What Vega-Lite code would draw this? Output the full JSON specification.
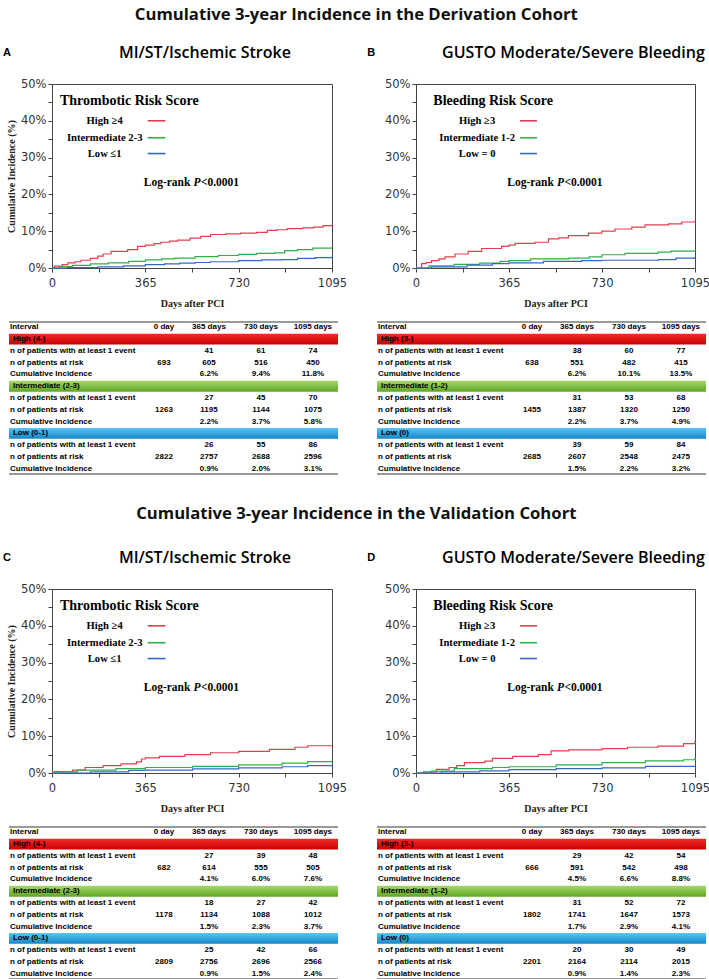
{
"$schema": "https://vega.github.io/schema/vega-lite/v6.json",
"background": "white",
"padding": {"left": 2, "top": 6, "right": 0, "bottom": 0},
"config": {
 "view": {"stroke": "#444", "strokeWidth": 1},
 "axis": {"grid": false, "labelFont": "DejaVu Sans", "labelFontSize": 11.5, "labelColor": "#333", "domainColor": "#444", "tickColor": "#444", "tickSize": 4, "titleFont": "Liberation Serif", "titleFontSize": 10, "titleFontWeight": "bold", "titleColor": "#222", "labelFlush": false, "labelOverlap": false},
 "title": {"font": "Open Sans", "color": "#111"},
 "style": {
  "tbl": {"font": "Liberation Sans", "fontSize": 8, "fontWeight": "bold", "fill": "#222", "baseline": "middle"},
  "lgd": {"font": "Liberation Serif", "fontSize": 10.6, "fontWeight": "bold", "fill": "#222", "baseline": "middle"},
  "lgt": {"font": "Liberation Serif", "fontSize": 14, "fontWeight": "bold", "fill": "#222", "baseline": "middle"},
  "lr": {"font": "Liberation Serif", "fontSize": 11.5, "fontWeight": "bold", "fill": "#222", "baseline": "middle"},
  "let": {"font": "Liberation Sans", "fontSize": 11, "fontWeight": "bold", "fill": "#111", "baseline": "middle", "align": "center"},
  "pt": {"font": "Open Sans", "fontSize": 16, "fontWeight": 600, "fill": "#111", "baseline": "middle", "align": "center"}
 }
},
"datasets": {
 "curves": [
  {"p":"A","g":"High","d":0,"v":0},{"p":"A","g":"High","d":10,"v":0.5},{"p":"A","g":"High","d":40,"v":0.9},{"p":"A","g":"High","d":62,"v":1.4},{"p":"A","g":"High","d":90,"v":1.7},{"p":"A","g":"High","d":114,"v":2.1},{"p":"A","g":"High","d":150,"v":2.6},{"p":"A","g":"High","d":179,"v":3.2},{"p":"A","g":"High","d":200,"v":3.8},{"p":"A","g":"High","d":231,"v":4.5},{"p":"A","g":"High","d":296,"v":5.0},{"p":"A","g":"High","d":335,"v":5.9},{"p":"A","g":"High","d":365,"v":6.2},{"p":"A","g":"High","d":400,"v":6.6},{"p":"A","g":"High","d":426,"v":7.0},{"p":"A","g":"High","d":460,"v":7.3},{"p":"A","g":"High","d":491,"v":7.6},{"p":"A","g":"High","d":540,"v":8.1},{"p":"A","g":"High","d":582,"v":8.6},{"p":"A","g":"High","d":620,"v":9.1},{"p":"A","g":"High","d":680,"v":9.3},{"p":"A","g":"High","d":738,"v":9.5},{"p":"A","g":"High","d":800,"v":9.7},{"p":"A","g":"High","d":842,"v":10.2},{"p":"A","g":"High","d":880,"v":10.4},{"p":"A","g":"High","d":920,"v":10.7},{"p":"A","g":"High","d":980,"v":10.9},{"p":"A","g":"High","d":1024,"v":11.1},{"p":"A","g":"High","d":1060,"v":11.5},{"p":"A","g":"High","d":1095,"v":11.8},
  {"p":"A","g":"Intermediate","d":0,"v":0},{"p":"A","g":"Intermediate","d":30,"v":0.4},{"p":"A","g":"Intermediate","d":80,"v":0.7},{"p":"A","g":"Intermediate","d":150,"v":1.1},{"p":"A","g":"Intermediate","d":220,"v":1.4},{"p":"A","g":"Intermediate","d":300,"v":1.8},{"p":"A","g":"Intermediate","d":365,"v":2.2},{"p":"A","g":"Intermediate","d":430,"v":2.5},{"p":"A","g":"Intermediate","d":480,"v":2.7},{"p":"A","g":"Intermediate","d":560,"v":3.1},{"p":"A","g":"Intermediate","d":650,"v":3.4},{"p":"A","g":"Intermediate","d":730,"v":3.7},{"p":"A","g":"Intermediate","d":800,"v":4.0},{"p":"A","g":"Intermediate","d":870,"v":4.1},{"p":"A","g":"Intermediate","d":910,"v":4.7},{"p":"A","g":"Intermediate","d":960,"v":5.0},{"p":"A","g":"Intermediate","d":1020,"v":5.4},{"p":"A","g":"Intermediate","d":1095,"v":5.8},
  {"p":"A","g":"Low","d":0,"v":0},{"p":"A","g":"Low","d":60,"v":0.1},{"p":"A","g":"Low","d":180,"v":0.3},{"p":"A","g":"Low","d":280,"v":0.6},{"p":"A","g":"Low","d":365,"v":0.9},{"p":"A","g":"Low","d":440,"v":1.1},{"p":"A","g":"Low","d":500,"v":1.3},{"p":"A","g":"Low","d":560,"v":1.5},{"p":"A","g":"Low","d":620,"v":1.7},{"p":"A","g":"Low","d":730,"v":2.0},{"p":"A","g":"Low","d":820,"v":2.2},{"p":"A","g":"Low","d":900,"v":2.3},{"p":"A","g":"Low","d":960,"v":2.6},{"p":"A","g":"Low","d":1030,"v":2.8},{"p":"A","g":"Low","d":1095,"v":3.1},
  {"p":"B","g":"High","d":0,"v":0},{"p":"B","g":"High","d":22,"v":1.2},{"p":"B","g":"High","d":40,"v":1.5},{"p":"B","g":"High","d":61,"v":2.0},{"p":"B","g":"High","d":90,"v":2.5},{"p":"B","g":"High","d":114,"v":3.0},{"p":"B","g":"High","d":153,"v":3.8},{"p":"B","g":"High","d":205,"v":4.5},{"p":"B","g":"High","d":258,"v":5.3},{"p":"B","g":"High","d":336,"v":5.9},{"p":"B","g":"High","d":365,"v":6.2},{"p":"B","g":"High","d":389,"v":6.7},{"p":"B","g":"High","d":467,"v":7.0},{"p":"B","g":"High","d":520,"v":7.9},{"p":"B","g":"High","d":560,"v":8.2},{"p":"B","g":"High","d":598,"v":8.8},{"p":"B","g":"High","d":677,"v":9.5},{"p":"B","g":"High","d":729,"v":10.0},{"p":"B","g":"High","d":781,"v":10.6},{"p":"B","g":"High","d":847,"v":11.1},{"p":"B","g":"High","d":899,"v":11.7},{"p":"B","g":"High","d":991,"v":12.0},{"p":"B","g":"High","d":1043,"v":12.5},{"p":"B","g":"High","d":1095,"v":12.9},
  {"p":"B","g":"Intermediate","d":0,"v":0},{"p":"B","g":"Intermediate","d":50,"v":0.6},{"p":"B","g":"Intermediate","d":150,"v":1.0},{"p":"B","g":"Intermediate","d":250,"v":1.3},{"p":"B","g":"Intermediate","d":330,"v":1.8},{"p":"B","g":"Intermediate","d":365,"v":2.0},{"p":"B","g":"Intermediate","d":450,"v":2.5},{"p":"B","g":"Intermediate","d":600,"v":2.7},{"p":"B","g":"Intermediate","d":680,"v":3.0},{"p":"B","g":"Intermediate","d":730,"v":3.6},{"p":"B","g":"Intermediate","d":820,"v":4.0},{"p":"B","g":"Intermediate","d":950,"v":4.3},{"p":"B","g":"Intermediate","d":1000,"v":4.6},{"p":"B","g":"Intermediate","d":1095,"v":4.8},
  {"p":"B","g":"Low","d":0,"v":0},{"p":"B","g":"Low","d":60,"v":0.3},{"p":"B","g":"Low","d":200,"v":0.8},{"p":"B","g":"Low","d":300,"v":1.2},{"p":"B","g":"Low","d":365,"v":1.4},{"p":"B","g":"Low","d":500,"v":1.8},{"p":"B","g":"Low","d":650,"v":2.0},{"p":"B","g":"Low","d":730,"v":2.1},{"p":"B","g":"Low","d":950,"v":2.3},{"p":"B","g":"Low","d":1020,"v":2.7},{"p":"B","g":"Low","d":1095,"v":3.0},
  {"p":"C","g":"High","d":0,"v":0},{"p":"C","g":"High","d":10,"v":0.4},{"p":"C","g":"High","d":80,"v":0.8},{"p":"C","g":"High","d":130,"v":1.5},{"p":"C","g":"High","d":200,"v":2.0},{"p":"C","g":"High","d":270,"v":2.5},{"p":"C","g":"High","d":330,"v":3.0},{"p":"C","g":"High","d":350,"v":3.8},{"p":"C","g":"High","d":365,"v":4.1},{"p":"C","g":"High","d":420,"v":4.5},{"p":"C","g":"High","d":520,"v":5.0},{"p":"C","g":"High","d":620,"v":5.5},{"p":"C","g":"High","d":730,"v":5.9},{"p":"C","g":"High","d":850,"v":6.4},{"p":"C","g":"High","d":950,"v":7.0},{"p":"C","g":"High","d":1000,"v":7.4},{"p":"C","g":"High","d":1095,"v":7.5},
  {"p":"C","g":"Intermediate","d":0,"v":0},{"p":"C","g":"Intermediate","d":30,"v":0.3},{"p":"C","g":"Intermediate","d":100,"v":0.8},{"p":"C","g":"Intermediate","d":250,"v":1.2},{"p":"C","g":"Intermediate","d":365,"v":1.5},{"p":"C","g":"Intermediate","d":550,"v":1.8},{"p":"C","g":"Intermediate","d":730,"v":2.2},{"p":"C","g":"Intermediate","d":900,"v":2.7},{"p":"C","g":"Intermediate","d":1000,"v":3.1},{"p":"C","g":"Intermediate","d":1095,"v":3.4},
  {"p":"C","g":"Low","d":0,"v":0},{"p":"C","g":"Low","d":150,"v":0.3},{"p":"C","g":"Low","d":300,"v":0.7},{"p":"C","g":"Low","d":365,"v":0.8},{"p":"C","g":"Low","d":550,"v":1.1},{"p":"C","g":"Low","d":730,"v":1.4},{"p":"C","g":"Low","d":900,"v":1.7},{"p":"C","g":"Low","d":1000,"v":2.0},{"p":"C","g":"Low","d":1095,"v":2.2},
  {"p":"D","g":"High","d":0,"v":0},{"p":"D","g":"High","d":30,"v":0.3},{"p":"D","g":"High","d":80,"v":1.0},{"p":"D","g":"High","d":130,"v":1.5},{"p":"D","g":"High","d":160,"v":2.0},{"p":"D","g":"High","d":190,"v":2.8},{"p":"D","g":"High","d":270,"v":3.2},{"p":"D","g":"High","d":300,"v":4.0},{"p":"D","g":"High","d":380,"v":4.5},{"p":"D","g":"High","d":480,"v":5.0},{"p":"D","g":"High","d":530,"v":6.0},{"p":"D","g":"High","d":600,"v":6.3},{"p":"D","g":"High","d":730,"v":6.6},{"p":"D","g":"High","d":830,"v":7.0},{"p":"D","g":"High","d":950,"v":7.3},{"p":"D","g":"High","d":1050,"v":8.0},{"p":"D","g":"High","d":1095,"v":8.6},
  {"p":"D","g":"Intermediate","d":0,"v":0},{"p":"D","g":"Intermediate","d":60,"v":0.5},{"p":"D","g":"Intermediate","d":150,"v":1.2},{"p":"D","g":"Intermediate","d":300,"v":1.5},{"p":"D","g":"Intermediate","d":365,"v":1.7},{"p":"D","g":"Intermediate","d":550,"v":2.2},{"p":"D","g":"Intermediate","d":730,"v":2.8},{"p":"D","g":"Intermediate","d":900,"v":3.3},{"p":"D","g":"Intermediate","d":1050,"v":3.6},{"p":"D","g":"Intermediate","d":1095,"v":4.1},
  {"p":"D","g":"Low","d":0,"v":0},{"p":"D","g":"Low","d":100,"v":0.3},{"p":"D","g":"Low","d":250,"v":0.6},{"p":"D","g":"Low","d":365,"v":0.9},{"p":"D","g":"Low","d":550,"v":1.2},{"p":"D","g":"Low","d":730,"v":1.4},{"p":"D","g":"Low","d":900,"v":1.8},{"p":"D","g":"Low","d":1095,"v":2.0}
 ],
 "tbl": [
  {"t":"A","row":0,"kind":"header","label":"Interval","c0":"0 day","c365":"365 days","c730":"730 days","c1095":"1095 days"},
  {"t":"A","row":1,"kind":"High","label":"High (4-)"},
  {"t":"A","row":2,"kind":"data","label":"n of patients with at least 1 event","c365":"41","c730":"61","c1095":"74"},
  {"t":"A","row":3,"kind":"data","label":"n of patients at risk","c0":"693","c365":"605","c730":"516","c1095":"450"},
  {"t":"A","row":4,"kind":"data","label":"Cumulative Incidence","c365":"6.2%","c730":"9.4%","c1095":"11.8%"},
  {"t":"A","row":5,"kind":"Intermediate","label":"Intermediate (2-3)"},
  {"t":"A","row":6,"kind":"data","label":"n of patients with at least 1 event","c365":"27","c730":"45","c1095":"70"},
  {"t":"A","row":7,"kind":"data","label":"n of patients at risk","c0":"1263","c365":"1195","c730":"1144","c1095":"1075"},
  {"t":"A","row":8,"kind":"data","label":"Cumulative Incidence","c365":"2.2%","c730":"3.7%","c1095":"5.8%"},
  {"t":"A","row":9,"kind":"Low","label":"Low (0-1)"},
  {"t":"A","row":10,"kind":"data","label":"n of patients with at least 1 event","c365":"26","c730":"55","c1095":"86"},
  {"t":"A","row":11,"kind":"data","label":"n of patients at risk","c0":"2822","c365":"2757","c730":"2688","c1095":"2596"},
  {"t":"A","row":12,"kind":"data","label":"Cumulative Incidence","c365":"0.9%","c730":"2.0%","c1095":"3.1%"},
  {"t":"B","row":0,"kind":"header","label":"Interval","c0":"0 day","c365":"365 days","c730":"730 days","c1095":"1095 days"},
  {"t":"B","row":1,"kind":"High","label":"High (3-)"},
  {"t":"B","row":2,"kind":"data","label":"n of patients with at least 1 event","c365":"38","c730":"60","c1095":"77"},
  {"t":"B","row":3,"kind":"data","label":"n of patients at risk","c0":"638","c365":"551","c730":"482","c1095":"415"},
  {"t":"B","row":4,"kind":"data","label":"Cumulative Incidence","c365":"6.2%","c730":"10.1%","c1095":"13.5%"},
  {"t":"B","row":5,"kind":"Intermediate","label":"Intermediate (1-2)"},
  {"t":"B","row":6,"kind":"data","label":"n of patients with at least 1 event","c365":"31","c730":"53","c1095":"68"},
  {"t":"B","row":7,"kind":"data","label":"n of patients at risk","c0":"1455","c365":"1387","c730":"1320","c1095":"1250"},
  {"t":"B","row":8,"kind":"data","label":"Cumulative Incidence","c365":"2.2%","c730":"3.7%","c1095":"4.9%"},
  {"t":"B","row":9,"kind":"Low","label":"Low (0)"},
  {"t":"B","row":10,"kind":"data","label":"n of patients with at least 1 event","c365":"39","c730":"59","c1095":"84"},
  {"t":"B","row":11,"kind":"data","label":"n of patients at risk","c0":"2685","c365":"2607","c730":"2548","c1095":"2475"},
  {"t":"B","row":12,"kind":"data","label":"Cumulative Incidence","c365":"1.5%","c730":"2.2%","c1095":"3.2%"},
  {"t":"C","row":0,"kind":"header","label":"Interval","c0":"0 day","c365":"365 days","c730":"730 days","c1095":"1095 days"},
  {"t":"C","row":1,"kind":"High","label":"High (4-)"},
  {"t":"C","row":2,"kind":"data","label":"n of patients with at least 1 event","c365":"27","c730":"39","c1095":"48"},
  {"t":"C","row":3,"kind":"data","label":"n of patients at risk","c0":"682","c365":"614","c730":"555","c1095":"505"},
  {"t":"C","row":4,"kind":"data","label":"Cumulative Incidence","c365":"4.1%","c730":"6.0%","c1095":"7.6%"},
  {"t":"C","row":5,"kind":"Intermediate","label":"Intermediate (2-3)"},
  {"t":"C","row":6,"kind":"data","label":"n of patients with at least 1 event","c365":"18","c730":"27","c1095":"42"},
  {"t":"C","row":7,"kind":"data","label":"n of patients at risk","c0":"1178","c365":"1134","c730":"1088","c1095":"1012"},
  {"t":"C","row":8,"kind":"data","label":"Cumulative Incidence","c365":"1.5%","c730":"2.3%","c1095":"3.7%"},
  {"t":"C","row":9,"kind":"Low","label":"Low (0-1)"},
  {"t":"C","row":10,"kind":"data","label":"n of patients with at least 1 event","c365":"25","c730":"42","c1095":"66"},
  {"t":"C","row":11,"kind":"data","label":"n of patients at risk","c0":"2809","c365":"2756","c730":"2696","c1095":"2566"},
  {"t":"C","row":12,"kind":"data","label":"Cumulative Incidence","c365":"0.9%","c730":"1.5%","c1095":"2.4%"},
  {"t":"D","row":0,"kind":"header","label":"Interval","c0":"0 day","c365":"365 days","c730":"730 days","c1095":"1095 days"},
  {"t":"D","row":1,"kind":"High","label":"High (3-)"},
  {"t":"D","row":2,"kind":"data","label":"n of patients with at least 1 event","c365":"29","c730":"42","c1095":"54"},
  {"t":"D","row":3,"kind":"data","label":"n of patients at risk","c0":"666","c365":"591","c730":"542","c1095":"498"},
  {"t":"D","row":4,"kind":"data","label":"Cumulative Incidence","c365":"4.5%","c730":"6.6%","c1095":"8.8%"},
  {"t":"D","row":5,"kind":"Intermediate","label":"Intermediate (1-2)"},
  {"t":"D","row":6,"kind":"data","label":"n of patients with at least 1 event","c365":"31","c730":"52","c1095":"72"},
  {"t":"D","row":7,"kind":"data","label":"n of patients at risk","c0":"1802","c365":"1741","c730":"1647","c1095":"1573"},
  {"t":"D","row":8,"kind":"data","label":"Cumulative Incidence","c365":"1.7%","c730":"2.9%","c1095":"4.1%"},
  {"t":"D","row":9,"kind":"Low","label":"Low (0)"},
  {"t":"D","row":10,"kind":"data","label":"n of patients with at least 1 event","c365":"20","c730":"30","c1095":"49"},
  {"t":"D","row":11,"kind":"data","label":"n of patients at risk","c0":"2201","c365":"2164","c730":"2114","c1095":"2015"},
  {"t":"D","row":12,"kind":"data","label":"Cumulative Incidence","c365":"0.9%","c730":"1.4%","c1095":"2.3%"}
 ]
},
"spacing": 30,
"vconcat": [
 {
  "title": {"text": "Cumulative 3-year Incidence in the Derivation Cohort", "fontSize": 16.7, "fontWeight": "bold", "anchor": "middle", "offset": 21},
  "spacing": 12,
  "vconcat": [
   {"spacing": 18, "hconcat": [
    {"width": 280, "height": 184,
     "resolve": {"axis": {"y": "independent"}},
     "layer": [
      {"data": {"name": "curves"}, "transform": [{"filter": "datum.p==='A'"}],
       "mark": {"type": "line", "interpolate": "step-after", "strokeWidth": 1.2},
       "encoding": {
        "x": {"field": "d", "type": "quantitative", "scale": {"domain": [0, 1095], "nice": false, "zero": false}, "axis": {"values": [0, 182.5, 365, 547.5, 730, 912.5, 1095], "labelExpr": "datum.value % 365 === 0 ? '' + datum.value : ''", "labelOverlap": false, "title": "Days after PCI", "labelPadding": 5, "titlePadding": 10}},
        "y": {"field": "v", "type": "quantitative", "scale": {"domain": [0, 50], "nice": false}, "axis": {"values": [0, 5, 10, 15, 20, 25, 30, 35, 40, 45, 50], "labelExpr": "datum.value % 10 === 0 ? datum.value + '%' : ''", "labelOverlap": false, "title": "Cumulative Incidence (%)", "labelPadding": 2, "titlePadding": 4}},
        "color": {"field": "g", "type": "nominal", "scale": {"domain": ["High", "Intermediate", "Low"], "range": ["#e0404d", "#30ad4c", "#3268c8"]}, "legend": null}}},
      {"data": {"values": [{}]}, "mark": {"type": "text", "style": "let", "text": "A"}, "encoding": {"x": {"datum": -176}, "y": {"datum": 58.4, "axis": null}}},
      {"data": {"values": [{}]}, "mark": {"type": "text", "style": "pt", "text": "MI/ST/Ischemic Stroke"}, "encoding": {"x": {"datum": 598}, "y": {"datum": 58.4, "axis": null}}},
      {"data": {"values": [{}]}, "mark": {"type": "text", "style": "lgt", "align": "left", "text": "Thrombotic Risk Score"}, "encoding": {"x": {"datum": 31}, "y": {"datum": 45.4, "axis": null}}},
      {"data": {"values": [{}]}, "mark": {"type": "text", "style": "lgd", "align": "center", "text": "High ≥4"}, "encoding": {"x": {"datum": 206}, "y": {"datum": 40, "axis": null}}},
      {"data": {"values": [{}]}, "mark": {"type": "text", "style": "lgd", "align": "center", "text": "Intermediate 2-3"}, "encoding": {"x": {"datum": 206}, "y": {"datum": 35.4, "axis": null}}},
      {"data": {"values": [{}]}, "mark": {"type": "text", "style": "lgd", "align": "center", "text": "Low ≤1"}, "encoding": {"x": {"datum": 206}, "y": {"datum": 31.1, "axis": null}}},
      {"data": {"values": [{}]}, "mark": {"type": "rule", "color": "#e0404d", "strokeWidth": 1.6}, "encoding": {"x": {"datum": 374}, "x2": {"datum": 444}, "y": {"datum": 40, "axis": null}}},
      {"data": {"values": [{}]}, "mark": {"type": "rule", "color": "#30ad4c", "strokeWidth": 1.6}, "encoding": {"x": {"datum": 374}, "x2": {"datum": 444}, "y": {"datum": 35.4, "axis": null}}},
      {"data": {"values": [{}]}, "mark": {"type": "rule", "color": "#3268c8", "strokeWidth": 1.6}, "encoding": {"x": {"datum": 374}, "x2": {"datum": 444}, "y": {"datum": 31.1, "axis": null}}},
      {"data": {"values": [{}]}, "mark": {"type": "text", "style": "lr", "align": "right", "dx": -3, "text": "Log-rank"}, "encoding": {"x": {"datum": 553}, "y": {"datum": 23, "axis": null}}},
      {"data": {"values": [{}]}, "mark": {"type": "text", "style": "lr", "align": "left", "fontStyle": "italic", "text": "P"}, "encoding": {"x": {"datum": 553}, "y": {"datum": 23, "axis": null}}},
      {"data": {"values": [{}]}, "mark": {"type": "text", "style": "lr", "align": "left", "dx": 7.5, "text": "<0.0001"}, "encoding": {"x": {"datum": 553}, "y": {"datum": 23, "axis": null}}}
     ]},
    {"width": 279, "height": 184,
     "resolve": {"axis": {"y": "independent"}},
     "layer": [
      {"data": {"name": "curves"}, "transform": [{"filter": "datum.p==='B'"}],
       "mark": {"type": "line", "interpolate": "step-after", "strokeWidth": 1.2},
       "encoding": {
        "x": {"field": "d", "type": "quantitative", "scale": {"domain": [0, 1095], "nice": false, "zero": false}, "axis": {"values": [0, 182.5, 365, 547.5, 730, 912.5, 1095], "labelExpr": "datum.value % 365 === 0 ? '' + datum.value : ''", "labelOverlap": false, "title": "Days after PCI", "labelPadding": 5, "titlePadding": 10}},
        "y": {"field": "v", "type": "quantitative", "scale": {"domain": [0, 50], "nice": false}, "axis": {"values": [0, 5, 10, 15, 20, 25, 30, 35, 40, 45, 50], "labelExpr": "datum.value % 10 === 0 ? datum.value + '%' : ''", "labelOverlap": false, "title": null, "labelPadding": 2}},
        "color": {"field": "g", "type": "nominal", "scale": {"domain": ["High", "Intermediate", "Low"], "range": ["#e0404d", "#30ad4c", "#3268c8"]}, "legend": null}}},
      {"data": {"values": [{}]}, "mark": {"type": "text", "style": "let", "text": "B"}, "encoding": {"x": {"datum": -176}, "y": {"datum": 58.4, "axis": null}}},
      {"data": {"values": [{}]}, "mark": {"type": "text", "style": "pt", "text": "GUSTO Moderate/Severe Bleeding"}, "encoding": {"x": {"datum": 618}, "y": {"datum": 58.4, "axis": null}}},
      {"data": {"values": [{}]}, "mark": {"type": "text", "style": "lgt", "align": "left", "text": "Bleeding Risk Score"}, "encoding": {"x": {"datum": 68}, "y": {"datum": 45.4, "axis": null}}},
      {"data": {"values": [{}]}, "mark": {"type": "text", "style": "lgd", "align": "center", "text": "High ≥3"}, "encoding": {"x": {"datum": 240}, "y": {"datum": 40, "axis": null}}},
      {"data": {"values": [{}]}, "mark": {"type": "text", "style": "lgd", "align": "center", "text": "Intermediate 1-2"}, "encoding": {"x": {"datum": 240}, "y": {"datum": 35.4, "axis": null}}},
      {"data": {"values": [{}]}, "mark": {"type": "text", "style": "lgd", "align": "center", "text": "Low = 0"}, "encoding": {"x": {"datum": 240}, "y": {"datum": 31.1, "axis": null}}},
      {"data": {"values": [{}]}, "mark": {"type": "rule", "color": "#e0404d", "strokeWidth": 1.6}, "encoding": {"x": {"datum": 408}, "x2": {"datum": 475}, "y": {"datum": 40, "axis": null}}},
      {"data": {"values": [{}]}, "mark": {"type": "rule", "color": "#30ad4c", "strokeWidth": 1.6}, "encoding": {"x": {"datum": 408}, "x2": {"datum": 475}, "y": {"datum": 35.4, "axis": null}}},
      {"data": {"values": [{}]}, "mark": {"type": "rule", "color": "#3268c8", "strokeWidth": 1.6}, "encoding": {"x": {"datum": 408}, "x2": {"datum": 475}, "y": {"datum": 31.1, "axis": null}}},
      {"data": {"values": [{}]}, "mark": {"type": "text", "style": "lr", "align": "right", "dx": -3, "text": "Log-rank"}, "encoding": {"x": {"datum": 553}, "y": {"datum": 23, "axis": null}}},
      {"data": {"values": [{}]}, "mark": {"type": "text", "style": "lr", "align": "left", "fontStyle": "italic", "text": "P"}, "encoding": {"x": {"datum": 553}, "y": {"datum": 23, "axis": null}}},
      {"data": {"values": [{}]}, "mark": {"type": "text", "style": "lr", "align": "left", "dx": 7.5, "text": "<0.0001"}, "encoding": {"x": {"datum": 553}, "y": {"datum": 23, "axis": null}}}
     ]}
   ]},
   {"spacing": 36, "hconcat": [
    {"width": 286, "height": 152, "view": {"stroke": null}, "data": {"name": "tbl"}, "transform": [{"filter": "datum.t==='A'"}],
     "encoding": {"y": {"field": "row", "type": "ordinal", "scale": {"domain": [0,1,2,3,4,5,6,7,8,9,10,11,12], "paddingInner": 0.08, "paddingOuter": 0}, "axis": null}},
     "layer": [
      {"transform": [{"filter": "datum.kind==='High'"}], "mark": {"type": "bar", "color": {"gradient": "linear", "x1": 0, "y1": 0, "x2": 0, "y2": 1, "stops": [{"offset": 0, "color": "#f52a2a"}, {"offset": 1, "color": "#c80000"}]}}, "encoding": {"x": {"datum": -1039, "scale": {"domain": [-737, 1271], "nice": false, "zero": false}, "axis": null}, "x2": {"datum": 1271}}},
      {"transform": [{"filter": "datum.kind==='Intermediate'"}], "mark": {"type": "bar", "color": {"gradient": "linear", "x1": 0, "y1": 0, "x2": 0, "y2": 1, "stops": [{"offset": 0, "color": "#a6d86a"}, {"offset": 1, "color": "#5fa624"}]}}, "encoding": {"x": {"datum": -1039}, "x2": {"datum": 1271}}},
      {"transform": [{"filter": "datum.kind==='Low'"}], "mark": {"type": "bar", "color": {"gradient": "linear", "x1": 0, "y1": 0, "x2": 0, "y2": 1, "stops": [{"offset": 0, "color": "#5cc6f2"}, {"offset": 1, "color": "#1487c8"}]}}, "encoding": {"x": {"datum": -1039}, "x2": {"datum": 1271}}},
      {"transform": [{"filter": "datum.row===0"}], "mark": {"type": "rule", "color": "#9a9a9a", "strokeWidth": 2}, "encoding": {"x": {"datum": -1039}, "x2": {"datum": 1271}, "y": {"field": "row", "type": "ordinal", "bandPosition": 0}}},
      {"transform": [{"filter": "datum.row===12"}], "mark": {"type": "rule", "color": "#9a9a9a", "strokeWidth": 2}, "encoding": {"x": {"datum": -1039}, "x2": {"datum": 1271}, "y": {"field": "row", "type": "ordinal", "bandPosition": 1}}},
      {"transform": [{"filter": "datum.kind==='data' || datum.kind==='header'"}], "mark": {"type": "text", "style": "tbl", "align": "left"}, "encoding": {"x": {"datum": -1032}, "text": {"field": "label"}}},
      {"transform": [{"filter": "datum.kind!=='data' && datum.kind!=='header'"}], "mark": {"type": "text", "style": "tbl", "align": "left"}, "encoding": {"x": {"datum": -1011}, "text": {"field": "label"}}},
      {"transform": [{"filter": "isValid(datum.c0)"}], "mark": {"type": "text", "style": "tbl", "align": "center", "dx": 7}, "encoding": {"x": {"datum": 0}, "text": {"field": "c0"}}},
      {"transform": [{"filter": "isValid(datum.c365)"}], "mark": {"type": "text", "style": "tbl", "align": "center"}, "encoding": {"x": {"datum": 365}, "text": {"field": "c365"}}},
      {"transform": [{"filter": "isValid(datum.c730)"}], "mark": {"type": "text", "style": "tbl", "align": "center"}, "encoding": {"x": {"datum": 730}, "text": {"field": "c730"}}},
      {"transform": [{"filter": "isValid(datum.c1095)"}], "mark": {"type": "text", "style": "tbl", "align": "center"}, "encoding": {"x": {"datum": 1095}, "text": {"field": "c1095"}}}
     ]},
    {"width": 286, "height": 152, "view": {"stroke": null}, "data": {"name": "tbl"}, "transform": [{"filter": "datum.t==='B'"}],
     "encoding": {"y": {"field": "row", "type": "ordinal", "scale": {"domain": [0,1,2,3,4,5,6,7,8,9,10,11,12], "paddingInner": 0.08, "paddingOuter": 0}, "axis": null}},
     "layer": [
      {"transform": [{"filter": "datum.kind==='High'"}], "mark": {"type": "bar", "color": {"gradient": "linear", "x1": 0, "y1": 0, "x2": 0, "y2": 1, "stops": [{"offset": 0, "color": "#f52a2a"}, {"offset": 1, "color": "#c80000"}]}}, "encoding": {"x": {"datum": -1039, "scale": {"domain": [-737, 1271], "nice": false, "zero": false}, "axis": null}, "x2": {"datum": 1271}}},
      {"transform": [{"filter": "datum.kind==='Intermediate'"}], "mark": {"type": "bar", "color": {"gradient": "linear", "x1": 0, "y1": 0, "x2": 0, "y2": 1, "stops": [{"offset": 0, "color": "#a6d86a"}, {"offset": 1, "color": "#5fa624"}]}}, "encoding": {"x": {"datum": -1039}, "x2": {"datum": 1271}}},
      {"transform": [{"filter": "datum.kind==='Low'"}], "mark": {"type": "bar", "color": {"gradient": "linear", "x1": 0, "y1": 0, "x2": 0, "y2": 1, "stops": [{"offset": 0, "color": "#5cc6f2"}, {"offset": 1, "color": "#1487c8"}]}}, "encoding": {"x": {"datum": -1039}, "x2": {"datum": 1271}}},
      {"transform": [{"filter": "datum.row===0"}], "mark": {"type": "rule", "color": "#9a9a9a", "strokeWidth": 2}, "encoding": {"x": {"datum": -1039}, "x2": {"datum": 1271}, "y": {"field": "row", "type": "ordinal", "bandPosition": 0}}},
      {"transform": [{"filter": "datum.row===12"}], "mark": {"type": "rule", "color": "#9a9a9a", "strokeWidth": 2}, "encoding": {"x": {"datum": -1039}, "x2": {"datum": 1271}, "y": {"field": "row", "type": "ordinal", "bandPosition": 1}}},
      {"transform": [{"filter": "datum.kind==='data' || datum.kind==='header'"}], "mark": {"type": "text", "style": "tbl", "align": "left"}, "encoding": {"x": {"datum": -1032}, "text": {"field": "label"}}},
      {"transform": [{"filter": "datum.kind!=='data' && datum.kind!=='header'"}], "mark": {"type": "text", "style": "tbl", "align": "left"}, "encoding": {"x": {"datum": -1011}, "text": {"field": "label"}}},
      {"transform": [{"filter": "isValid(datum.c0)"}], "mark": {"type": "text", "style": "tbl", "align": "center", "dx": 7}, "encoding": {"x": {"datum": 0}, "text": {"field": "c0"}}},
      {"transform": [{"filter": "isValid(datum.c365)"}], "mark": {"type": "text", "style": "tbl", "align": "center"}, "encoding": {"x": {"datum": 365}, "text": {"field": "c365"}}},
      {"transform": [{"filter": "isValid(datum.c730)"}], "mark": {"type": "text", "style": "tbl", "align": "center"}, "encoding": {"x": {"datum": 730}, "text": {"field": "c730"}}},
      {"transform": [{"filter": "isValid(datum.c1095)"}], "mark": {"type": "text", "style": "tbl", "align": "center"}, "encoding": {"x": {"datum": 1095}, "text": {"field": "c1095"}}}
     ]}
   ]}
  ]
 },
 {
  "title": {"text": "Cumulative 3-year Incidence in the Validation Cohort", "fontSize": 16.7, "fontWeight": "bold", "anchor": "middle", "offset": 27},
  "spacing": 12,
  "vconcat": [
   {"spacing": 18, "hconcat": [
    {"width": 280, "height": 184,
     "resolve": {"axis": {"y": "independent"}},
     "layer": [
      {"data": {"name": "curves"}, "transform": [{"filter": "datum.p==='C'"}],
       "mark": {"type": "line", "interpolate": "step-after", "strokeWidth": 1.2},
       "encoding": {
        "x": {"field": "d", "type": "quantitative", "scale": {"domain": [0, 1095], "nice": false, "zero": false}, "axis": {"values": [0, 182.5, 365, 547.5, 730, 912.5, 1095], "labelExpr": "datum.value % 365 === 0 ? '' + datum.value : ''", "labelOverlap": false, "title": "Days after PCI", "labelPadding": 5, "titlePadding": 10}},
        "y": {"field": "v", "type": "quantitative", "scale": {"domain": [0, 50], "nice": false}, "axis": {"values": [0, 5, 10, 15, 20, 25, 30, 35, 40, 45, 50], "labelExpr": "datum.value % 10 === 0 ? datum.value + '%' : ''", "labelOverlap": false, "title": "Cumulative Incidence (%)", "labelPadding": 2, "titlePadding": 4}},
        "color": {"field": "g", "type": "nominal", "scale": {"domain": ["High", "Intermediate", "Low"], "range": ["#e0404d", "#30ad4c", "#3268c8"]}, "legend": null}}},
      {"data": {"values": [{}]}, "mark": {"type": "text", "style": "let", "text": "C"}, "encoding": {"x": {"datum": -176}, "y": {"datum": 58.4, "axis": null}}},
      {"data": {"values": [{}]}, "mark": {"type": "text", "style": "pt", "text": "MI/ST/Ischemic Stroke"}, "encoding": {"x": {"datum": 598}, "y": {"datum": 58.4, "axis": null}}},
      {"data": {"values": [{}]}, "mark": {"type": "text", "style": "lgt", "align": "left", "text": "Thrombotic Risk Score"}, "encoding": {"x": {"datum": 31}, "y": {"datum": 45.4, "axis": null}}},
      {"data": {"values": [{}]}, "mark": {"type": "text", "style": "lgd", "align": "center", "text": "High ≥4"}, "encoding": {"x": {"datum": 206}, "y": {"datum": 40, "axis": null}}},
      {"data": {"values": [{}]}, "mark": {"type": "text", "style": "lgd", "align": "center", "text": "Intermediate 2-3"}, "encoding": {"x": {"datum": 206}, "y": {"datum": 35.4, "axis": null}}},
      {"data": {"values": [{}]}, "mark": {"type": "text", "style": "lgd", "align": "center", "text": "Low ≤1"}, "encoding": {"x": {"datum": 206}, "y": {"datum": 31.1, "axis": null}}},
      {"data": {"values": [{}]}, "mark": {"type": "rule", "color": "#e0404d", "strokeWidth": 1.6}, "encoding": {"x": {"datum": 374}, "x2": {"datum": 444}, "y": {"datum": 40, "axis": null}}},
      {"data": {"values": [{}]}, "mark": {"type": "rule", "color": "#30ad4c", "strokeWidth": 1.6}, "encoding": {"x": {"datum": 374}, "x2": {"datum": 444}, "y": {"datum": 35.4, "axis": null}}},
      {"data": {"values": [{}]}, "mark": {"type": "rule", "color": "#3268c8", "strokeWidth": 1.6}, "encoding": {"x": {"datum": 374}, "x2": {"datum": 444}, "y": {"datum": 31.1, "axis": null}}},
      {"data": {"values": [{}]}, "mark": {"type": "text", "style": "lr", "align": "right", "dx": -3, "text": "Log-rank"}, "encoding": {"x": {"datum": 553}, "y": {"datum": 23, "axis": null}}},
      {"data": {"values": [{}]}, "mark": {"type": "text", "style": "lr", "align": "left", "fontStyle": "italic", "text": "P"}, "encoding": {"x": {"datum": 553}, "y": {"datum": 23, "axis": null}}},
      {"data": {"values": [{}]}, "mark": {"type": "text", "style": "lr", "align": "left", "dx": 7.5, "text": "<0.0001"}, "encoding": {"x": {"datum": 553}, "y": {"datum": 23, "axis": null}}}
     ]},
    {"width": 279, "height": 184,
     "resolve": {"axis": {"y": "independent"}},
     "layer": [
      {"data": {"name": "curves"}, "transform": [{"filter": "datum.p==='D'"}],
       "mark": {"type": "line", "interpolate": "step-after", "strokeWidth": 1.2},
       "encoding": {
        "x": {"field": "d", "type": "quantitative", "scale": {"domain": [0, 1095], "nice": false, "zero": false}, "axis": {"values": [0, 182.5, 365, 547.5, 730, 912.5, 1095], "labelExpr": "datum.value % 365 === 0 ? '' + datum.value : ''", "labelOverlap": false, "title": "Days after PCI", "labelPadding": 5, "titlePadding": 10}},
        "y": {"field": "v", "type": "quantitative", "scale": {"domain": [0, 50], "nice": false}, "axis": {"values": [0, 5, 10, 15, 20, 25, 30, 35, 40, 45, 50], "labelExpr": "datum.value % 10 === 0 ? datum.value + '%' : ''", "labelOverlap": false, "title": null, "labelPadding": 2}},
        "color": {"field": "g", "type": "nominal", "scale": {"domain": ["High", "Intermediate", "Low"], "range": ["#e0404d", "#30ad4c", "#3268c8"]}, "legend": null}}},
      {"data": {"values": [{}]}, "mark": {"type": "text", "style": "let", "text": "D"}, "encoding": {"x": {"datum": -176}, "y": {"datum": 58.4, "axis": null}}},
      {"data": {"values": [{}]}, "mark": {"type": "text", "style": "pt", "text": "GUSTO Moderate/Severe Bleeding"}, "encoding": {"x": {"datum": 618}, "y": {"datum": 58.4, "axis": null}}},
      {"data": {"values": [{}]}, "mark": {"type": "text", "style": "lgt", "align": "left", "text": "Bleeding Risk Score"}, "encoding": {"x": {"datum": 68}, "y": {"datum": 45.4, "axis": null}}},
      {"data": {"values": [{}]}, "mark": {"type": "text", "style": "lgd", "align": "center", "text": "High ≥3"}, "encoding": {"x": {"datum": 240}, "y": {"datum": 40, "axis": null}}},
      {"data": {"values": [{}]}, "mark": {"type": "text", "style": "lgd", "align": "center", "text": "Intermediate 1-2"}, "encoding": {"x": {"datum": 240}, "y": {"datum": 35.4, "axis": null}}},
      {"data": {"values": [{}]}, "mark": {"type": "text", "style": "lgd", "align": "center", "text": "Low = 0"}, "encoding": {"x": {"datum": 240}, "y": {"datum": 31.1, "axis": null}}},
      {"data": {"values": [{}]}, "mark": {"type": "rule", "color": "#e0404d", "strokeWidth": 1.6}, "encoding": {"x": {"datum": 408}, "x2": {"datum": 475}, "y": {"datum": 40, "axis": null}}},
      {"data": {"values": [{}]}, "mark": {"type": "rule", "color": "#30ad4c", "strokeWidth": 1.6}, "encoding": {"x": {"datum": 408}, "x2": {"datum": 475}, "y": {"datum": 35.4, "axis": null}}},
      {"data": {"values": [{}]}, "mark": {"type": "rule", "color": "#3268c8", "strokeWidth": 1.6}, "encoding": {"x": {"datum": 408}, "x2": {"datum": 475}, "y": {"datum": 31.1, "axis": null}}},
      {"data": {"values": [{}]}, "mark": {"type": "text", "style": "lr", "align": "right", "dx": -3, "text": "Log-rank"}, "encoding": {"x": {"datum": 553}, "y": {"datum": 23, "axis": null}}},
      {"data": {"values": [{}]}, "mark": {"type": "text", "style": "lr", "align": "left", "fontStyle": "italic", "text": "P"}, "encoding": {"x": {"datum": 553}, "y": {"datum": 23, "axis": null}}},
      {"data": {"values": [{}]}, "mark": {"type": "text", "style": "lr", "align": "left", "dx": 7.5, "text": "<0.0001"}, "encoding": {"x": {"datum": 553}, "y": {"datum": 23, "axis": null}}}
     ]}
   ]},
   {"spacing": 36, "hconcat": [
    {"width": 286, "height": 152, "view": {"stroke": null}, "data": {"name": "tbl"}, "transform": [{"filter": "datum.t==='C'"}],
     "encoding": {"y": {"field": "row", "type": "ordinal", "scale": {"domain": [0,1,2,3,4,5,6,7,8,9,10,11,12], "paddingInner": 0.08, "paddingOuter": 0}, "axis": null}},
     "layer": [
      {"transform": [{"filter": "datum.kind==='High'"}], "mark": {"type": "bar", "color": {"gradient": "linear", "x1": 0, "y1": 0, "x2": 0, "y2": 1, "stops": [{"offset": 0, "color": "#f52a2a"}, {"offset": 1, "color": "#c80000"}]}}, "encoding": {"x": {"datum": -1039, "scale": {"domain": [-737, 1271], "nice": false, "zero": false}, "axis": null}, "x2": {"datum": 1271}}},
      {"transform": [{"filter": "datum.kind==='Intermediate'"}], "mark": {"type": "bar", "color": {"gradient": "linear", "x1": 0, "y1": 0, "x2": 0, "y2": 1, "stops": [{"offset": 0, "color": "#a6d86a"}, {"offset": 1, "color": "#5fa624"}]}}, "encoding": {"x": {"datum": -1039}, "x2": {"datum": 1271}}},
      {"transform": [{"filter": "datum.kind==='Low'"}], "mark": {"type": "bar", "color": {"gradient": "linear", "x1": 0, "y1": 0, "x2": 0, "y2": 1, "stops": [{"offset": 0, "color": "#5cc6f2"}, {"offset": 1, "color": "#1487c8"}]}}, "encoding": {"x": {"datum": -1039}, "x2": {"datum": 1271}}},
      {"transform": [{"filter": "datum.row===0"}], "mark": {"type": "rule", "color": "#9a9a9a", "strokeWidth": 2}, "encoding": {"x": {"datum": -1039}, "x2": {"datum": 1271}, "y": {"field": "row", "type": "ordinal", "bandPosition": 0}}},
      {"transform": [{"filter": "datum.row===12"}], "mark": {"type": "rule", "color": "#9a9a9a", "strokeWidth": 2}, "encoding": {"x": {"datum": -1039}, "x2": {"datum": 1271}, "y": {"field": "row", "type": "ordinal", "bandPosition": 1}}},
      {"transform": [{"filter": "datum.kind==='data' || datum.kind==='header'"}], "mark": {"type": "text", "style": "tbl", "align": "left"}, "encoding": {"x": {"datum": -1032}, "text": {"field": "label"}}},
      {"transform": [{"filter": "datum.kind!=='data' && datum.kind!=='header'"}], "mark": {"type": "text", "style": "tbl", "align": "left"}, "encoding": {"x": {"datum": -1011}, "text": {"field": "label"}}},
      {"transform": [{"filter": "isValid(datum.c0)"}], "mark": {"type": "text", "style": "tbl", "align": "center", "dx": 7}, "encoding": {"x": {"datum": 0}, "text": {"field": "c0"}}},
      {"transform": [{"filter": "isValid(datum.c365)"}], "mark": {"type": "text", "style": "tbl", "align": "center"}, "encoding": {"x": {"datum": 365}, "text": {"field": "c365"}}},
      {"transform": [{"filter": "isValid(datum.c730)"}], "mark": {"type": "text", "style": "tbl", "align": "center"}, "encoding": {"x": {"datum": 730}, "text": {"field": "c730"}}},
      {"transform": [{"filter": "isValid(datum.c1095)"}], "mark": {"type": "text", "style": "tbl", "align": "center"}, "encoding": {"x": {"datum": 1095}, "text": {"field": "c1095"}}}
     ]},
    {"width": 286, "height": 152, "view": {"stroke": null}, "data": {"name": "tbl"}, "transform": [{"filter": "datum.t==='D'"}],
     "encoding": {"y": {"field": "row", "type": "ordinal", "scale": {"domain": [0,1,2,3,4,5,6,7,8,9,10,11,12], "paddingInner": 0.08, "paddingOuter": 0}, "axis": null}},
     "layer": [
      {"transform": [{"filter": "datum.kind==='High'"}], "mark": {"type": "bar", "color": {"gradient": "linear", "x1": 0, "y1": 0, "x2": 0, "y2": 1, "stops": [{"offset": 0, "color": "#f52a2a"}, {"offset": 1, "color": "#c80000"}]}}, "encoding": {"x": {"datum": -1039, "scale": {"domain": [-737, 1271], "nice": false, "zero": false}, "axis": null}, "x2": {"datum": 1271}}},
      {"transform": [{"filter": "datum.kind==='Intermediate'"}], "mark": {"type": "bar", "color": {"gradient": "linear", "x1": 0, "y1": 0, "x2": 0, "y2": 1, "stops": [{"offset": 0, "color": "#a6d86a"}, {"offset": 1, "color": "#5fa624"}]}}, "encoding": {"x": {"datum": -1039}, "x2": {"datum": 1271}}},
      {"transform": [{"filter": "datum.kind==='Low'"}], "mark": {"type": "bar", "color": {"gradient": "linear", "x1": 0, "y1": 0, "x2": 0, "y2": 1, "stops": [{"offset": 0, "color": "#5cc6f2"}, {"offset": 1, "color": "#1487c8"}]}}, "encoding": {"x": {"datum": -1039}, "x2": {"datum": 1271}}},
      {"transform": [{"filter": "datum.row===0"}], "mark": {"type": "rule", "color": "#9a9a9a", "strokeWidth": 2}, "encoding": {"x": {"datum": -1039}, "x2": {"datum": 1271}, "y": {"field": "row", "type": "ordinal", "bandPosition": 0}}},
      {"transform": [{"filter": "datum.row===12"}], "mark": {"type": "rule", "color": "#9a9a9a", "strokeWidth": 2}, "encoding": {"x": {"datum": -1039}, "x2": {"datum": 1271}, "y": {"field": "row", "type": "ordinal", "bandPosition": 1}}},
      {"transform": [{"filter": "datum.kind==='data' || datum.kind==='header'"}], "mark": {"type": "text", "style": "tbl", "align": "left"}, "encoding": {"x": {"datum": -1032}, "text": {"field": "label"}}},
      {"transform": [{"filter": "datum.kind!=='data' && datum.kind!=='header'"}], "mark": {"type": "text", "style": "tbl", "align": "left"}, "encoding": {"x": {"datum": -1011}, "text": {"field": "label"}}},
      {"transform": [{"filter": "isValid(datum.c0)"}], "mark": {"type": "text", "style": "tbl", "align": "center", "dx": 7}, "encoding": {"x": {"datum": 0}, "text": {"field": "c0"}}},
      {"transform": [{"filter": "isValid(datum.c365)"}], "mark": {"type": "text", "style": "tbl", "align": "center"}, "encoding": {"x": {"datum": 365}, "text": {"field": "c365"}}},
      {"transform": [{"filter": "isValid(datum.c730)"}], "mark": {"type": "text", "style": "tbl", "align": "center"}, "encoding": {"x": {"datum": 730}, "text": {"field": "c730"}}},
      {"transform": [{"filter": "isValid(datum.c1095)"}], "mark": {"type": "text", "style": "tbl", "align": "center"}, "encoding": {"x": {"datum": 1095}, "text": {"field": "c1095"}}}
     ]}
   ]}
  ]
 }
]
}
